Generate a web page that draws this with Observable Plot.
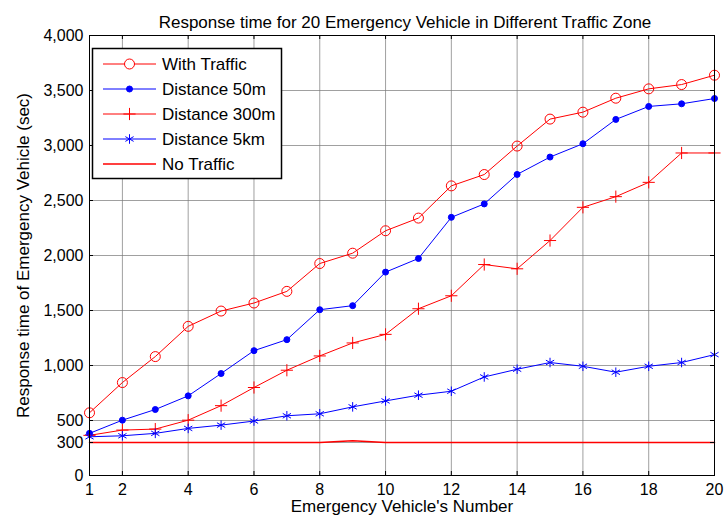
<!DOCTYPE html>
<html>
<head>
<meta charset="utf-8">
<script src="https://cdn.jsdelivr.net/npm/d3@7"></script>
<script src="https://cdn.jsdelivr.net/npm/@observablehq/plot@0.6"></script>
<style>
  body { margin: 0; background: #fff; }
  #chart svg { display: block; }
</style>
</head>
<body>
<div id="chart"></div>
<script>
// Emergency vehicle index (x axis)
const vehicles = [1, 2, 3, 4, 5, 6, 7, 8, 9, 10, 11, 12, 13, 14, 15, 16, 17, 18, 19, 20];

// Response time in seconds per traffic scenario
const withTraffic  = [570, 845, 1081, 1356, 1495, 1568, 1674, 1927, 2021, 2225, 2340, 2633, 2736, 2995, 3240, 3303, 3430, 3515, 3554, 3639];
const distance50m  = [383, 503, 600, 724, 927, 1135, 1235, 1507, 1544, 1849, 1973, 2347, 2469, 2737, 2895, 3016, 3237, 3355, 3379, 3427];
const distance300m = [365, 413, 422, 503, 635, 800, 957, 1087, 1205, 1283, 1516, 1634, 1918, 1879, 2136, 2438, 2535, 2665, 2932, 2932];
const distance5km  = [352, 361, 383, 428, 458, 495, 543, 561, 624, 678, 730, 766, 896, 966, 1027, 993, 939, 993, 1027, 1099];
const noTraffic    = [300, 300, 300, 300, 300, 300, 300, 300, 315, 300, 300, 300, 300, 300, 300, 300, 300, 300, 300, 300];

// Axis ticks
const xTicks = [1, 2, 4, 6, 8, 10, 12, 14, 16, 18, 20];
const yTicks = [0, 300, 500, 1000, 1500, 2000, 2500, 3000, 3500, 4000];

const titleText = "Response time for 20 Emergency Vehicle in Different Traffic Zone";
const xLabel = "Emergency Vehicle's Number";
const yLabel = "Response time of Emergency Vehicle (sec)";

const RED = "#ff0000";
const BLUE = "#0000ff";
const FONT = "'Liberation Sans', Arial, sans-serif";

const series = [
  {name: "With Traffic",  values: withTraffic,  color: RED,  symbol: "circle",   r: 5,   fill: "none", width: 1},
  {name: "Distance 50m",  values: distance50m,  color: BLUE, symbol: "circle",   r: 3,   fill: BLUE,   width: 1},
  {name: "Distance 300m", values: distance300m, color: RED,  symbol: "plus",     r: 4,   fill: "none", width: 1},
  {name: "Distance 5km",  values: distance5km,  color: BLUE, symbol: "asterisk", r: 4.5, fill: "none", width: 1},
  {name: "No Traffic",    values: noTraffic,    color: RED,  symbol: null,       r: 0,   fill: "none", width: 1.5}
];

const W = 724, H = 524;
const M = {top: 35, right: 10, bottom: 49, left: 89};
const tickLen = 4;
const frameW = W - M.left - M.right;
const frameH = H - M.top - M.bottom;
const thousands = d3.format(",");

const marks = [
  Plot.gridX(xTicks, {stroke: "#777", strokeOpacity: 0.7, strokeWidth: 1}),
  Plot.gridY(yTicks, {stroke: "#777", strokeOpacity: 0.7, strokeWidth: 1})
];

for (const s of series) {
  marks.push(Plot.line(vehicles, {
    x: d => d, y: (d, i) => s.values[i],
    stroke: s.color, strokeWidth: s.width
  }));
}
for (const s of series) {
  if (!s.symbol) continue;
  marks.push(Plot.dot(vehicles, {
    x: d => d, y: (d, i) => s.values[i],
    symbol: s.symbol, r: s.r,
    stroke: s.color, fill: s.fill, strokeWidth: 1
  }));
}

marks.push(
  Plot.frame({stroke: "#000", strokeWidth: 1}),
  // inward tick marks on all four sides
  Plot.tickX(xTicks, {x: d => d, insetTop: frameH - tickLen, stroke: "#000"}),
  Plot.tickX(xTicks, {x: d => d, insetBottom: frameH - tickLen, stroke: "#000"}),
  Plot.tickY(yTicks, {y: d => d, insetRight: frameW - tickLen, stroke: "#000"}),
  Plot.tickY(yTicks, {y: d => d, insetLeft: frameW - tickLen, stroke: "#000"}),
  Plot.axisX({ticks: xTicks, tickSize: 0, tickPadding: 8, label: null, fontSize: 16}),
  Plot.axisY({ticks: yTicks, tickSize: 0, tickPadding: 6, tickFormat: thousands, label: null, fontSize: 16}),
  Plot.text([titleText], {frameAnchor: "top", dy: -20, dx: 3, fontSize: 17, fill: "#000", textAnchor: "middle"}),
  Plot.text([xLabel], {frameAnchor: "bottom", dy: 36, fontSize: 17, fill: "#000", textAnchor: "middle"}),
  Plot.text([yLabel], {frameAnchor: "left", dx: -66, rotate: -90, fontSize: 17, fill: "#000", textAnchor: "middle"})
);

const chart = Plot.plot({
  width: W,
  height: H,
  marginLeft: M.left,
  marginRight: M.right,
  marginTop: M.top,
  marginBottom: M.bottom,
  style: {fontFamily: FONT, background: "#fff", color: "#000"},
  x: {type: "linear", domain: [1, 20]},
  y: {type: "linear", domain: [0, 4000]},
  marks
});

document.getElementById("chart").appendChild(chart);

// Legend box in the upper-left corner of the plot area
const svg = d3.select(chart);
const legend = svg.append("g")
  .attr("font-family", FONT)
  .attr("font-size", 17)
  .attr("text-anchor", "start");
const lx = 92, ly = 48, lw = 189, lh = 130;
legend.append("rect")
  .attr("x", lx + 0.5).attr("y", ly + 0.5).attr("width", lw).attr("height", lh)
  .attr("fill", "#fff").attr("stroke", "#000").attr("stroke-width", 1.5);

const symbolTypes = {circle: d3.symbolCircle, plus: d3.symbolPlus, asterisk: d3.symbolAsterisk};
series.forEach((s, i) => {
  const y = ly + 16 + i * 25;
  const row = legend.append("g");
  row.append("line")
    .attr("x1", 103).attr("x2", 156).attr("y1", y).attr("y2", y)
    .attr("stroke", s.color).attr("stroke-width", s.width);
  if (s.symbol) {
    row.append("path")
      .attr("transform", `translate(129.5,${y})`)
      .attr("d", d3.symbol(symbolTypes[s.symbol], Math.PI * s.r * s.r)())
      .attr("stroke", s.color).attr("fill", s.fill === "none" ? "#fff" : s.fill)
      .attr("stroke-width", 1);
  }
  row.append("text")
    .attr("x", 162).attr("y", y).attr("dy", "0.35em")
    .attr("fill", "#000")
    .text(s.name);
});
</script>
</body>
</html>
